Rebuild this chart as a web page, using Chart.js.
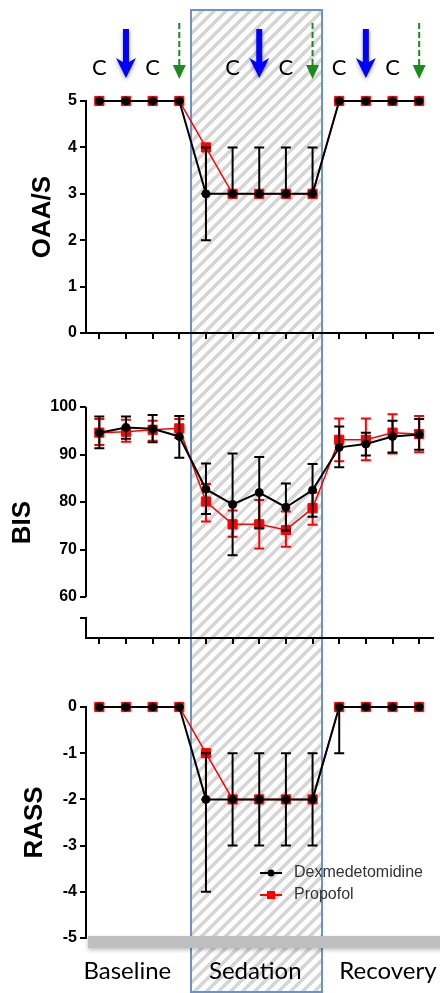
<!DOCTYPE html>
<html>
<head>
<meta charset="utf-8">
<script src="https://cdn.jsdelivr.net/npm/chart.js@4.4.1/dist/chart.umd.min.js"></script>
<style>
  html, body { margin: 0; padding: 0; background: #fff; }
  body { width: 440px; height: 993px; position: relative; overflow: hidden; }
  #sedation {
    position: absolute;
    box-sizing: border-box;
    border: 2px solid #6a92cb;
    background: repeating-linear-gradient(135deg, #fff 0 5px, #d6d6d6 5px 8.5px);
  }
  canvas.panel { position: absolute; left: 0; top: 0; }
</style>
</head>
<body>
<div id="sedation"></div>
<canvas id="oaas" class="panel" width="440" height="993"></canvas>
<canvas id="bis" class="panel" width="440" height="993"></canvas>
<canvas id="rass" class="panel" width="440" height="993"></canvas>
<script>
// time points along x, grouped in three phases
const TIMEPOINTS = [0, 1, 2, 3, 4, 5, 6, 7, 8, 9, 10, 11, 12];
const PHASES = ['Baseline', 'Sedation', 'Recovery'];
const PHASE_LABEL_AT = [1.05, 5.85, 10.83];
const SEDATION_SPAN = [3.45, 8.35];
const SERIES = ['Dexmedetomidine', 'Propofol'];
// row above the top panel: C = letter, B = blue arrow, G = green dashed arrow
const MARKS = ['C', 'B', 'C', 'G', '', 'C', 'B', 'C', 'G', 'C', 'B', 'C', 'G'];

const OAAS_TICKS = [0, 1, 2, 3, 4, 5];
const OAAS_DEX    = [5, 5, 5, 5, 3, 3, 3, 3, 3, 5, 5, 5, 5];
const OAAS_DEX_LO = [5, 5, 5, 5, 2, 3, 3, 3, 3, 5, 5, 5, 5];
const OAAS_DEX_HI = [5, 5, 5, 5, 4, 4, 4, 4, 4, 5, 5, 5, 5];
const OAAS_PRO    = [5, 5, 5, 5, 4, 3, 3, 3, 3, 5, 5, 5, 5];
const OAAS_PRO_LO = [5, 5, 5, 5, 3, 3, 3, 3, 3, 5, 5, 5, 5];
const OAAS_PRO_HI = [5, 5, 5, 5, 4, 3, 3, 3, 3, 5, 5, 5, 5];

const BIS_TICKS = [60, 70, 80, 90, 100];
const BIS_BREAK = 55.6;
const BIS_DEX    = [94.6, 95.7, 95.4, 93.8, 82.7, 79.5, 82.0, 78.9, 82.5, 91.5, 92.2, 93.8, 94.2];
const BIS_DEX_LO = [91.3, 93.3, 92.6, 89.3, 77.5, 68.8, 74.5, 74.0, 76.9, 87.3, 89.8, 90.4, 91.0];
const BIS_DEX_HI = [98.0, 98.0, 98.3, 98.1, 88.1, 90.2, 89.5, 83.9, 88.0, 95.9, 94.6, 97.1, 97.5];
const BIS_PRO    = [94.6, 94.8, 95.2, 95.5, 80.1, 75.3, 75.3, 74.1, 78.7, 93.1, 93.1, 94.6, 94.3];
const BIS_PRO_LO = [92.0, 92.7, 92.9, 93.5, 75.9, 72.7, 70.2, 70.6, 75.2, 88.6, 88.8, 90.2, 90.5];
const BIS_PRO_HI = [97.5, 97.3, 97.1, 97.5, 83.8, 78.2, 80.4, 78.0, 82.0, 97.6, 97.6, 98.5, 98.1];

const RASS_TICKS = [-5, -4, -3, -2, -1, 0];
const RASS_DEX    = [0, 0, 0, 0, -2, -2, -2, -2, -2, 0, 0, 0, 0];
const RASS_DEX_LO = [0, 0, 0, 0, -4, -3, -3, -3, -3, -1, 0, 0, 0];
const RASS_DEX_HI = [0, 0, 0, 0, -1, -1, -1, -1, -1, 0, 0, 0, 0];
const RASS_PRO    = [0, 0, 0, 0, -1, -2, -2, -2, -2, 0, 0, 0, 0];
const RASS_PRO_LO = [0, 0, 0, 0, -2, -2, -2, -2, -2, 0, 0, 0, 0];
const RASS_PRO_HI = [0, 0, 0, 0, -1, -2, -2, -2, -2, 0, 0, 0, 0];

const SANS = "'Liberation Sans', Arial, sans-serif";
const HUMAN = "Lato, 'Open Sans', sans-serif";

const xy = arr => arr.map((v, i) => ({x: TIMEPOINTS[i], y: v}));

// whiskers drawn just before each dataset so markers sit on top
const errorBars = {
  id: 'errorBars',
  beforeDatasetDraw(chart, args) {
    const ds = chart.data.datasets[args.index];
    const {ctx, scales: {x, y}} = chart;
    ctx.save();
    ctx.strokeStyle = ds.borderColor;
    ctx.lineWidth = 2;
    ds.data.forEach((p, i) => {
      const lo = ds.lo[i], hi = ds.hi[i];
      if (lo === p.y && hi === p.y) return;
      const px = x.getPixelForValue(p.x);
      const yl = y.getPixelForValue(lo), yh = y.getPixelForValue(hi);
      ctx.beginPath();
      ctx.moveTo(px, yl); ctx.lineTo(px, yh);
      if (lo !== p.y) { ctx.moveTo(px - 5, yl); ctx.lineTo(px + 5, yl); }
      if (hi !== p.y) { ctx.moveTo(px - 5, yh); ctx.lineTo(px + 5, yh); }
      ctx.stroke();
    });
    ctx.restore();
  }
};

function blueArrow(ctx, px) {
  ctx.save();
  ctx.fillStyle = '#0000ff';
  ctx.shadowColor = 'rgba(0,0,0,0.35)';
  ctx.shadowBlur = 4;
  ctx.shadowOffsetY = 2;
  ctx.beginPath();
  ctx.moveTo(px - 3, 29);
  ctx.lineTo(px + 3, 29);
  ctx.lineTo(px + 3, 62);
  ctx.lineTo(px + 10, 58);
  ctx.lineTo(px, 78);
  ctx.lineTo(px - 10, 58);
  ctx.lineTo(px - 3, 62);
  ctx.closePath();
  ctx.fill();
  ctx.restore();
}

function greenArrow(ctx, px) {
  ctx.save();
  ctx.strokeStyle = '#1a8c1a';
  ctx.fillStyle = '#1a8c1a';
  ctx.lineWidth = 2;
  ctx.setLineDash([6, 3]);
  ctx.beginPath();
  ctx.moveTo(px, 23); ctx.lineTo(px, 66);
  ctx.stroke();
  ctx.beginPath();
  ctx.moveTo(px - 6.5, 65); ctx.lineTo(px + 6.5, 65); ctx.lineTo(px, 79);
  ctx.closePath();
  ctx.fill();
  ctx.restore();
}

const topMarks = {
  id: 'topMarks',
  afterDraw(chart) {
    const {ctx, scales: {x}} = chart;
    MARKS.forEach((m, i) => {
      const px = x.getPixelForValue(TIMEPOINTS[i]);
      if (m === 'C') {
        ctx.save();
        ctx.fillStyle = '#000';
        ctx.font = '22px ' + HUMAN;
        ctx.textAlign = 'center';
        ctx.textBaseline = 'middle';
        ctx.fillText('C', px, 68);
        ctx.restore();
      } else if (m === 'B') {
        blueArrow(ctx, px);
      } else if (m === 'G') {
        greenArrow(ctx, px);
      }
    });
  }
};

// BIS y axis with a break below 60
const brokenAxis = {
  id: 'brokenAxis',
  afterDraw(chart) {
    const {ctx, chartArea, scales: {y}} = chart;
    const left = chartArea.left;
    ctx.save();
    ctx.strokeStyle = '#000';
    ctx.lineWidth = 2;
    ctx.beginPath();
    ctx.moveTo(left, y.getPixelForValue(BIS_TICKS[BIS_TICKS.length - 1]));
    ctx.lineTo(left, y.getPixelForValue(BIS_TICKS[0]));
    const yb = y.getPixelForValue(BIS_BREAK);
    ctx.moveTo(left - 6, yb);
    ctx.lineTo(left, yb);
    ctx.lineTo(left, chartArea.bottom + 1);
    ctx.stroke();
    ctx.restore();
  }
};

const bottomDecor = {
  id: 'bottomDecor',
  afterDraw(chart) {
    const {ctx, chartArea, scales: {x}} = chart;
    // grey bar under the RASS panel
    ctx.save();
    ctx.fillStyle = '#bfbfbf';
    ctx.shadowColor = 'rgba(0,0,0,0.25)';
    ctx.shadowBlur = 4;
    ctx.shadowOffsetY = 2;
    ctx.fillRect(chartArea.left + 2, chartArea.bottom - 2, chart.width, 12);
    ctx.restore();

    ctx.save();
    ctx.fillStyle = '#000';
    ctx.font = '24px ' + HUMAN;
    ctx.textAlign = 'center';
    ctx.textBaseline = 'middle';
    PHASES.forEach((p, i) => ctx.fillText(p, x.getPixelForValue(PHASE_LABEL_AT[i]), 971));
    ctx.restore();

    // legend
    ctx.save();
    const lx = 260, rows = [873, 895];
    chart.data.datasets.forEach((ds, i) => {
      const ly = rows[i];
      ctx.strokeStyle = ds.borderColor;
      ctx.lineWidth = 2;
      ctx.beginPath(); ctx.moveTo(lx, ly); ctx.lineTo(lx + 22, ly); ctx.stroke();
      ctx.fillStyle = ds.backgroundColor;
      if (ds.pointStyle === 'circle') {
        ctx.beginPath(); ctx.arc(lx + 11, ly, 3.5, 0, Math.PI * 2); ctx.fill();
      } else {
        ctx.fillRect(lx + 7, ly - 4, 8, 8);
      }
      ctx.fillStyle = '#333';
      ctx.font = '16px ' + SANS;
      ctx.textAlign = 'left';
      ctx.textBaseline = 'middle';
      ctx.fillText(ds.label, lx + 34, ly);
    });
    ctx.restore();
  }
};

function panel(id, cfg) {
  const datasets = [
    {
      label: SERIES[0], data: xy(cfg.dex), lo: cfg.dexLo, hi: cfg.dexHi,
      borderColor: '#000', backgroundColor: '#000', borderWidth: 2,
      pointStyle: 'circle', pointRadius: 4, pointBorderWidth: 1, clip: false, tension: 0
    },
    {
      label: SERIES[1], data: xy(cfg.pro), lo: cfg.proLo, hi: cfg.proHi,
      borderColor: '#ff0000', backgroundColor: '#ff0000', borderWidth: 1.5,
      pointStyle: 'rect', pointRadius: 6.5, pointBorderWidth: 1, clip: false, tension: 0
    }
  ];
  return new Chart(document.getElementById(id), {
    type: 'line',
    data: {datasets},
    options: {
      responsive: false,
      animation: false,
      events: [],
      layout: {padding: {top: cfg.top, bottom: cfg.bottom, left: 0, right: 5}},
      plugins: {legend: {display: false}, tooltip: {enabled: false}},
      scales: {
        x: {
          type: 'linear', min: -0.5, max: 12.5,
          afterBuildTicks: s => { s.ticks = TIMEPOINTS.map(v => ({value: v})); },
          afterFit: s => { s.height = 6; },
          ticks: {display: false},
          grid: {display: cfg.xAxis, drawOnChartArea: false, tickLength: 6, color: '#000', lineWidth: 2},
          border: {display: cfg.xAxis, color: '#000', width: 2}
        },
        y: {
          type: 'linear', min: cfg.min, max: cfg.max,
          afterBuildTicks: s => { s.ticks = cfg.ticks.map(v => ({value: v})); },
          afterFit: s => { s.width = 86; },
          ticks: {color: '#000', padding: 3, font: {family: SANS, size: 16, weight: 'bold'}},
          grid: {drawOnChartArea: false, tickLength: 6, color: '#000', lineWidth: 2},
          border: {display: !cfg.broken, color: '#000', width: 2},
          title: {
            display: true, text: cfg.title, color: '#000',
            font: {family: SANS, size: 26, weight: 'bold'},
            padding: {top: cfg.titlePad, bottom: 0}
          }
        }
      }
    },
    plugins: [errorBars].concat(cfg.plugins || [])
  });
}

const oaas = panel('oaas', {
  title: 'OAA/S', titlePad: 27, top: 101, bottom: 654, min: 0, max: 5, ticks: OAAS_TICKS, xAxis: true,
  dex: OAAS_DEX, dexLo: OAAS_DEX_LO, dexHi: OAAS_DEX_HI,
  pro: OAAS_PRO, proLo: OAAS_PRO_LO, proHi: OAAS_PRO_HI,
  plugins: [topMarks]
});

panel('bis', {
  title: 'BIS', titlePad: 7, top: 407, bottom: 349, min: 51.37, max: 100, ticks: BIS_TICKS, xAxis: true, broken: true,
  dex: BIS_DEX, dexLo: BIS_DEX_LO, dexHi: BIS_DEX_HI,
  pro: BIS_PRO, proLo: BIS_PRO_LO, proHi: BIS_PRO_HI,
  plugins: [brokenAxis]
});

panel('rass', {
  title: 'RASS', titlePad: 19, top: 707, bottom: 49, min: -5, max: 0, ticks: RASS_TICKS, xAxis: false,
  dex: RASS_DEX, dexLo: RASS_DEX_LO, dexHi: RASS_DEX_HI,
  pro: RASS_PRO, proLo: RASS_PRO_LO, proHi: RASS_PRO_HI,
  plugins: [bottomDecor]
});

// hatched sedation band, placed from the shared x scale
const sx = oaas.scales.x;
const bandL = sx.getPixelForValue(SEDATION_SPAN[0]);
const bandR = sx.getPixelForValue(SEDATION_SPAN[1]);
const band = document.getElementById('sedation');
band.style.left = (bandL - 1) + 'px';
band.style.width = (bandR - bandL + 2) + 'px';
band.style.top = '9px';
band.style.height = '984px';
</script>
</body>
</html>
